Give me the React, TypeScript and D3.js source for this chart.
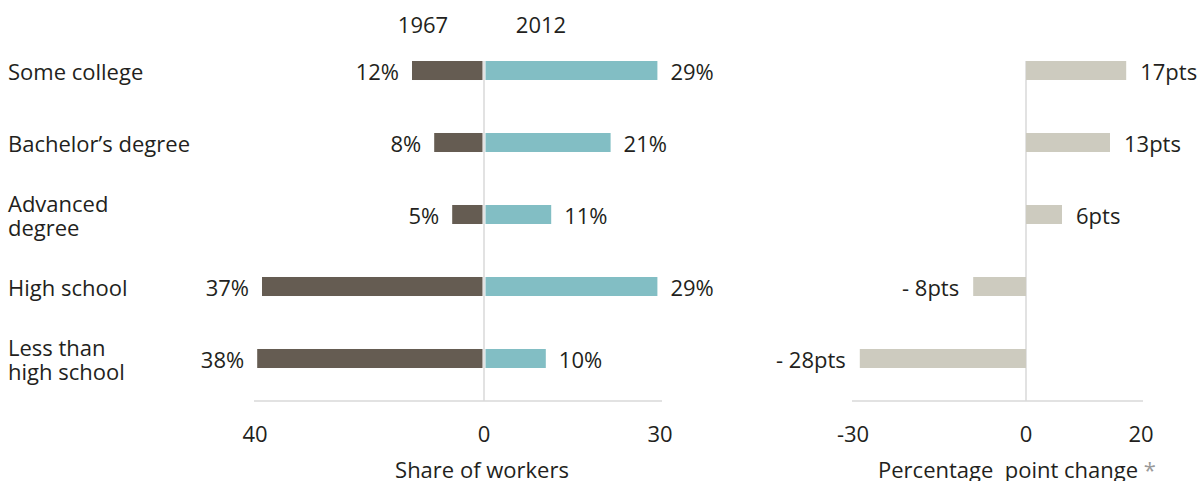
import * as d3 from "d3";

// Data
const categories = [
  ["Some college"],
  ["Bachelor\u2019s degree"],
  ["Advanced", "degree"],
  ["High school"],
  ["Less than", "high school"],
];
const share1967 = [12, 8.3, 5.3, 37, 37.8];
const share2012 = [28.9, 21.1, 11.2, 28.9, 10.3];
const label1967 = ["12%", "8%", "5%", "37%", "38%"];
const label2012 = ["29%", "21%", "11%", "29%", "10%"];
// bar lengths as drawn, labels as printed
const pointChange = [16.7, 14, 6, -8.8, -27.7];
const pointLabels = ["17pts", "13pts", "6pts", "- 8pts", "- 28pts"];
const leftTicks = [-40, 0, 30];
const rightTicks = [-30, 0, 20];

const width = 1204;
const height = 481;
const font = "'Open Sans', sans-serif";
const textColor = "#231f20";
const gridColor = "#d9d9d9";
const color1967 = "#655c52";
const color2012 = "#82bec4";
const colorChange = "#cdcbbf";

const App = () => {
  // rows
  const y = d3
    .scaleBand<number>()
    .domain(d3.range(categories.length))
    .range([34.5, 394.5])
    .paddingInner(0.736)
    .paddingOuter(0.368);
  const bh = y.bandwidth();
  const cy = (i: number) => (y(i) ?? 0) + bh / 2;

  // left panel: bars and axis ticks
  const xL = d3.scaleLinear().domain([-40, 30]).range([244, 664]);
  const xLAxis = d3.scaleLinear().domain([-40, 0, 30]).range([255, 484, 660]);
  // right panel
  const xR = d3.scaleLinear().domain([-30, 20]).range([846, 1146]);
  const xRAxis = d3.scaleLinear().domain([-30, 0, 20]).range([853, 1026, 1141]);

  const axisY = 401;
  const fs = 22;

  return (
    <svg width={width} height={height} style={{ position: "absolute", left: 0, top: 0 }} fontFamily={font}>
      {/* left panel */}
      <text x={423} y={33} fontSize={fs} fill={textColor} textAnchor="middle">1967</text>
      <text x={541} y={33} fontSize={fs} fill={textColor} textAnchor="middle">2012</text>

      {categories.map((lines, i) => (
        <text key={i} x={8} y={cy(i) - ((lines.length - 1) * 24) / 2} fontSize={fs} fill={textColor} dominantBaseline="central">
          {lines.map((l, j) => (
            <tspan key={j} x={8} dy={j === 0 ? 0 : 24}>{l}</tspan>
          ))}
        </text>
      ))}

      <line x1={xL(0)} x2={xL(0)} y1={y(0)} y2={axisY} stroke={gridColor} strokeWidth={1.5} />
      <line x1={xLAxis(-40) - 1} x2={xLAxis(30) + 2} y1={axisY} y2={axisY} stroke={gridColor} strokeWidth={1.5} />

      {share1967.map((v, i) => (
        <g key={"a" + i}>
          <rect x={xL(-v)} y={y(i)} width={xL(0) - 1.5 - xL(-v)} height={bh} fill={color1967} />
          <text x={xL(-v) - 13} y={cy(i)} fontSize={fs} fill={textColor} textAnchor="end" dominantBaseline="central">{label1967[i]}</text>
        </g>
      ))}
      {share2012.map((v, i) => (
        <g key={"b" + i}>
          <rect x={xL(0) + 1.5} y={y(i)} width={xL(v) - xL(0) - 1.5} height={bh} fill={color2012} />
          <text x={xL(v) + 13} y={cy(i)} fontSize={fs} fill={textColor} dominantBaseline="central">{label2012[i]}</text>
        </g>
      ))}

      {leftTicks.map(t => (
        <text key={t} x={xLAxis(t)} y={442} fontSize={fs} fill={textColor} textAnchor="middle">{Math.abs(t)}</text>
      ))}
      <text x={482} y={478} fontSize={fs} fill={textColor} textAnchor="middle">Share of workers</text>

      {/* right panel */}
      <line x1={xR(0)} x2={xR(0)} y1={y(0)} y2={axisY} stroke={gridColor} strokeWidth={1.5} />
      <line x1={xRAxis(-30) - 1} x2={xRAxis(20) + 2} y1={axisY} y2={axisY} stroke={gridColor} strokeWidth={1.5} />
      {pointChange.map((v, i) => (
        <g key={"c" + i}>
          <rect x={xR(Math.min(0, v))} y={y(i)} width={Math.abs(xR(v) - xR(0))} height={bh} fill={colorChange} />
          <text
            x={v >= 0 ? xR(v) + 14 : xR(v) - 14}
            y={cy(i)}
            fontSize={fs}
            fill={textColor}
            textAnchor={v >= 0 ? "start" : "end"}
            dominantBaseline="central"
          >
            {pointLabels[i]}
          </text>
        </g>
      ))}
      {rightTicks.map(t => (
        <text key={t} x={xRAxis(t)} y={442} fontSize={fs} fill={textColor} textAnchor="middle">{t}</text>
      ))}
      <text x={1017} y={478} fontSize={fs} fill={textColor} textAnchor="middle" style={{ whiteSpace: "pre" }}>
        {"Percentage  point change "}
        <tspan fill="#9a9a9a">*</tspan>
      </text>
    </svg>
  );
};

export default App;
